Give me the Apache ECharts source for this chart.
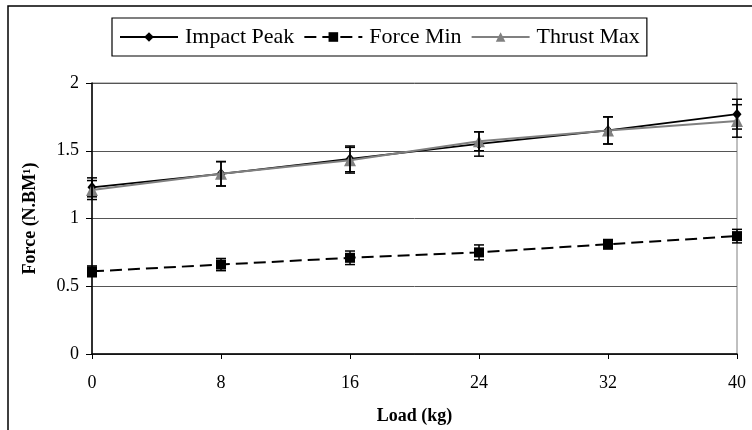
<!DOCTYPE html>
<html>
<head>
<meta charset="utf-8">
<script src="https://cdn.jsdelivr.net/npm/echarts@6/dist/echarts.min.js"></script>
<style>
html,body{margin:0;padding:0;background:#fff;}
#chart{width:752px;height:430px;}
</style>
</head>
<body>
<div id="chart"></div>
<script>
// ---- data ----
const loads = [0, 8, 16, 24, 32, 40];
const xTicks = [0, 8, 16, 24, 32, 40];
const yTicks = [0, 0.5, 1, 1.5, 2];
const impactPeak = [1.23, 1.33, 1.44, 1.55, 1.65, 1.77];
const impactErr  = [0.07, 0.09, 0.095, 0.09, 0.10, 0.11];
const forceMin   = [0.61, 0.66, 0.71, 0.75, 0.81, 0.87];
const forceErr   = [0.04, 0.045, 0.05, 0.055, 0.035, 0.05];
const thrustMax  = [1.21, 1.33, 1.43, 1.57, 1.65, 1.72];
const thrustErr  = [0.07, 0.09, 0.095, 0.07, 0.10, 0.12];
const seriesNames = ['Impact Peak', 'Force Min', 'Thrust Max'];

const FONT = '"Liberation Serif", "Times New Roman", serif';

function pairs(xs, ys) { return xs.map((x, i) => [x, ys[i]]); }
function errTriples(xs, ys, es) { return xs.map((x, i) => [x, ys[i], es[i]]); }

function renderErr(params, api) {
  const x = api.value(0), v = api.value(1), e = api.value(2);
  const top = api.coord([x, v + e]);
  const bot = api.coord([x, v - e]);
  const hw = 5;
  const st = { stroke: '#000', lineWidth: 1.5 };
  return {
    type: 'group',
    children: [
      { type: 'line', shape: { x1: top[0], y1: top[1], x2: bot[0], y2: bot[1] }, style: st },
      { type: 'line', shape: { x1: top[0] - hw, y1: top[1], x2: top[0] + hw, y2: top[1] }, style: st },
      { type: 'line', shape: { x1: bot[0] - hw, y1: bot[1], x2: bot[0] + hw, y2: bot[1] }, style: st }
    ]
  };
}

const chart = echarts.init(document.getElementById('chart'), null, { renderer: 'canvas' });

const option = {
  animation: false,
  backgroundColor: '#fff',
  textStyle: { fontFamily: FONT, color: '#000' },
  graphic: [
    { type: 'rect', shape: { x: 8, y: 6, width: 900, height: 600 },
      style: { fill: 'none', stroke: '#000', lineWidth: 1.5 }, z: -10, silent: true }
  ],
  legend: {
    data: seriesNames,
    left: 112, top: 18,
    orient: 'horizontal',
    padding: [8, 7],
    itemGap: 9,
    itemWidth: 58, itemHeight: 12,
    borderColor: '#000', borderWidth: 1.2,
    backgroundColor: '#fff',
    textStyle: { fontFamily: FONT, fontSize: 22, color: '#000', padding: [0, 0, 0, 2] }
  },
  grid: {
    left: 92, right: 15, top: 83, bottom: 76,
    show: true, borderColor: '#808080', borderWidth: 1, backgroundColor: 'transparent'
  },
  xAxis: {
    type: 'value', min: xTicks[0], max: xTicks[xTicks.length - 1], interval: 8,
    name: 'Load (kg)', nameLocation: 'middle', nameGap: 53,
    nameTextStyle: { fontFamily: FONT, fontSize: 18, fontWeight: 'bold', color: '#000' },
    axisLine: { show: true, lineStyle: { color: '#000', width: 1.5 } },
    axisTick: { show: true, inside: false, length: 5, lineStyle: { color: '#000', width: 1 } },
    axisLabel: { fontFamily: FONT, fontSize: 18, color: '#000', margin: 20 },
    splitLine: { show: false }
  },
  yAxis: {
    type: 'value', min: yTicks[0], max: yTicks[yTicks.length - 1], interval: 0.5,
    name: 'Force (N.BM¹)', nameLocation: 'middle', nameGap: 53, nameRotate: 90,
    nameTextStyle: { fontFamily: FONT, fontSize: 18, fontWeight: 'bold', color: '#000' },
    axisLine: { show: true, lineStyle: { color: '#000', width: 1.5 } },
    axisTick: { show: true, inside: false, length: 6, lineStyle: { color: '#000', width: 1 } },
    axisLabel: { fontFamily: FONT, fontSize: 18, color: '#000', margin: 13 },
    splitLine: { show: true, lineStyle: { color: '#555', width: 1 } }
  },
  series: [
    {
      name: seriesNames[0], type: 'line', data: pairs(loads, impactPeak),
      symbol: 'diamond', symbolSize: [9, 11], showSymbol: true,
      lineStyle: { color: '#000', width: 1.8 },
      itemStyle: { color: '#000' }, z: 2
    },
    {
      name: seriesNames[1], type: 'line', data: pairs(loads, forceMin),
      symbol: 'rect', symbolSize: 10,
      lineStyle: { color: '#000', width: 2, type: [12, 6] },
      itemStyle: { color: '#000' }, z: 3
    },
    {
      name: seriesNames[2], type: 'line', data: pairs(loads, thrustMax),
      symbol: 'triangle', symbolSize: [12, 12],
      lineStyle: { color: '#808080', width: 2 },
      itemStyle: { color: '#808080' }, z: 4
    },
    {
      name: 'err-impact', type: 'custom', renderItem: renderErr,
      data: errTriples(loads, impactPeak, impactErr), encode: { x: 0, y: 1 }, z: 5, silent: true
    },
    {
      name: 'err-force', type: 'custom', renderItem: renderErr,
      data: errTriples(loads, forceMin, forceErr), encode: { x: 0, y: 1 }, z: 5, silent: true
    },
    {
      name: 'err-thrust', type: 'custom', renderItem: renderErr,
      data: errTriples(loads, thrustMax, thrustErr), encode: { x: 0, y: 1 }, z: 5, silent: true
    }
  ]
};
chart.setOption(option);
</script>
</body>
</html>
